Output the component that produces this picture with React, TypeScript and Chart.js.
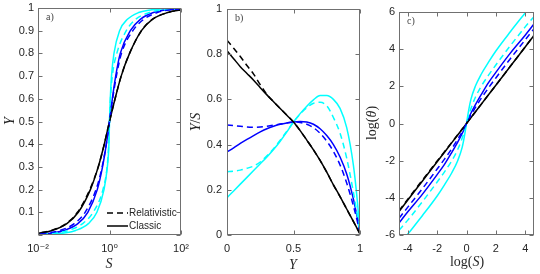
import React, { useEffect, useRef } from 'react';
import { Chart, registerables } from 'chart.js';
Chart.register(...registerables);

// ---------- Panel a : Y versus S (log axis) ----------
const yGridA = [0.001, 0.003, 0.01, 0.02, 0.05, 0.1, 0.2, 0.3, 0.4, 0.5, 0.6, 0.7, 0.8, 0.9, 0.95, 0.98, 0.99, 0.997, 0.9995];
const sBlackClassic = [0.00123, 0.00368, 0.0124, 0.025, 0.0641, 0.134, 0.292, 0.484, 0.714, 1, 1.43, 2.12, 3.64, 7.83, 15.8, 42.6, 86, 285, 1666];
const sBlackRel = [0.00116, 0.00348, 0.0117, 0.0236, 0.0605, 0.127, 0.281, 0.484, 0.714, 1, 1.43, 2.12, 3.64, 7.83, 15.8, 42.6, 86, 285, 1666];
const sBlueClassic = [0.00272, 0.0082, 0.0272, 0.0538, 0.13, 0.247, 0.455, 0.638, 0.816, 1, 1.2, 1.49, 2.0, 3.83, 7.3, 16.9, 33, 125, 800];
const sBlueRel = [0.00205, 0.00616, 0.0205, 0.0412, 0.1035, 0.2075, 0.419, 0.622, 0.813, 1, 1.224, 1.556, 2.16, 4.5, 9.05, 21.8, 41, 142, 900];
const sCyanClassic = [0.00606, 0.0182, 0.0602, 0.113, 0.256, 0.444, 0.702, 0.87, 0.964, 1, 1.053, 1.138, 1.333, 1.915, 3.17, 6.53, 12.4, 40, 250];
const sCyanRel = [0.00357, 0.0107, 0.0356, 0.0709, 0.177, 0.348, 0.656, 0.857, 0.952, 1, 1.062, 1.197, 1.6, 2.95, 5.34, 13.1, 25.4, 83, 333];
const ticksAX = [0.01, 1, 100];
const ticksAXLabels = ['10\u207B\u00B2', '10\u2070', '10\u00B2'];
const ticksAY = [0, 0.1, 0.2, 0.3, 0.4, 0.5, 0.6, 0.7, 0.8, 0.9, 1];
const ticksAYLabels = ['', '0.1', '0.2', '0.3', '0.4', '0.5', '0.6', '0.7', '0.8', '0.9', '1'];
const legendLabels = ['Relativistic', 'Classic'];

// ---------- Panel b : Y/S versus Y ----------
const yB = [0, 0.05, 0.1, 0.15, 0.2, 0.25, 0.3, 0.35, 0.4, 0.45, 0.5, 0.55, 0.6, 0.65, 0.7, 0.75, 0.8, 0.85, 0.9, 0.95, 0.98, 1];
const rBlackClassic = [0.815, 0.78, 0.745, 0.715, 0.685, 0.652, 0.62, 0.59, 0.56, 0.53, 0.5, 0.462, 0.42, 0.377, 0.33, 0.278, 0.222, 0.17, 0.115, 0.06, 0.027, 0.005];
const rBlackRel = [0.862, 0.826, 0.79, 0.75, 0.712, 0.665, 0.622, 0.59, 0.56, 0.53, 0.5, 0.462, 0.42, 0.377, 0.33, 0.278, 0.222, 0.17, 0.115, 0.06, 0.027, 0.005];
const rBlueClassic = [0.367, 0.385, 0.405, 0.423, 0.44, 0.456, 0.47, 0.481, 0.49, 0.496, 0.5, 0.502, 0.5, 0.49, 0.47, 0.44, 0.4, 0.345, 0.27, 0.16, 0.075, 0.008];
const rBlueRel = [0.487, 0.484, 0.481, 0.478, 0.477, 0.478, 0.481, 0.486, 0.491, 0.496, 0.5, 0.498, 0.49, 0.475, 0.45, 0.415, 0.37, 0.31, 0.23, 0.13, 0.06, 0.008];
const rCyanClassic = [0.165, 0.195, 0.225, 0.255, 0.285, 0.315, 0.345, 0.378, 0.415, 0.456, 0.5, 0.537, 0.57, 0.598, 0.617, 0.617, 0.6, 0.56, 0.475, 0.31, 0.15, 0.008];
const rCyanRel = [0.28, 0.282, 0.287, 0.295, 0.305, 0.323, 0.35, 0.382, 0.42, 0.459, 0.5, 0.535, 0.563, 0.583, 0.587, 0.572, 0.52, 0.45, 0.34, 0.19, 0.085, 0.008];
const ticksBX = [0, 0.5, 1];
const ticksBY = [0, 0.2, 0.4, 0.6, 0.8, 1];

// ---------- Panel c : log(theta) versus log(S) ----------
const lnS = [-4.6, -4, -3, -2, -1.5, -1, -0.6, -0.3, -0.15, 0, 0.15, 0.3, 0.6, 1, 1.5, 2, 3, 4, 4.6];
const thBlackClassic = [-4.74, -4.12, -3.09, -2.06, -1.55, -1.03, -0.62, -0.31, -0.155, 0, 0.155, 0.31, 0.62, 1.03, 1.55, 2.06, 3.09, 4.12, 4.74];
const thBlackRel = [-4.69, -4.07, -3.04, -2.02, -1.52, -1.01, -0.61, -0.31, -0.155, 0, 0.155, 0.31, 0.62, 1.03, 1.55, 2.06, 3.09, 4.12, 4.74];
const thBlueClassic = [-5.35, -4.75, -3.8, -2.75, -2.2, -1.55, -1.0, -0.55, -0.3, 0, 0.3, 0.55, 1.0, 1.55, 2.2, 2.75, 3.8, 4.75, 5.35];
const thBlueRel = [-5.1, -4.5, -3.5, -2.45, -1.92, -1.35, -0.85, -0.45, -0.24, 0, 0.24, 0.45, 0.85, 1.35, 1.92, 2.45, 3.5, 4.5, 5.1];
const thCyanClassic = [-6.55, -5.95, -4.95, -3.9, -3.3, -2.65, -2.0, -1.3, -0.72, 0, 0.72, 1.3, 2.0, 2.65, 3.3, 3.9, 4.95, 5.95, 6.55];
const thCyanRel = [-5.75, -5.2, -4.2, -3.15, -2.6, -2.0, -1.4, -0.8, -0.42, 0, 0.42, 0.8, 1.4, 2.0, 2.6, 3.15, 4.2, 5.2, 5.75];
const ticksCX = [-4, -2, 0, 2, 4];
const ticksCY = [-6, -4, -2, 0, 2, 4, 6];

// ---------- styling ----------
const BLACK = '#000000';
const BLUE = '#0000ff';
const CYAN = '#00ffff';
const DASH = [6, 4];
const AXIS = '#707070';
const TEXT = '#262626';
const SANS = '"Liberation Sans", Arial, "DejaVu Sans", sans-serif';
const SERIF = '"Liberation Serif", "DejaVu Serif", serif';

type Seg = { t: string; i?: boolean };

function drawRich(ctx: CanvasRenderingContext2D, segs: Seg[], x: number, y: number, rot: boolean, size: number) {
  ctx.save();
  ctx.translate(x, y);
  if (rot) ctx.rotate(-Math.PI / 2);
  const fonts = segs.map((s) => `${s.i ? 'italic ' : ''}${size}px ${SERIF}`);
  const widths = segs.map((s, k) => {
    ctx.font = fonts[k];
    return ctx.measureText(s.t).width;
  });
  const total = widths.reduce((a, b) => a + b, 0);
  let cx = -total / 2;
  ctx.textAlign = 'left';
  ctx.textBaseline = 'middle';
  segs.forEach((s, k) => {
    ctx.font = fonts[k];
    ctx.fillText(s.t, cx, 0);
    cx += widths[k];
  });
  ctx.restore();
}

const deco = {
  id: 'deco',
  afterDraw(chart: any, _args: any, o: any) {
    const { ctx, chartArea: ca, scales } = chart;
    const xs = scales.x;
    const ys = scales.y;
    ctx.save();
    ctx.strokeStyle = AXIS;
    ctx.lineWidth = 1;
    ctx.setLineDash([]);
    const L = Math.round(ca.left) + 0.5;
    const R = Math.round(ca.right) - 0.5;
    const T = Math.round(ca.top) + 0.5;
    const B = Math.round(ca.bottom) - 0.5;
    ctx.strokeRect(L, T, R - L, B - T);
    const tl = 4;
    ctx.beginPath();
    for (const t of xs.ticks) {
      const p = Math.round(xs.getPixelForValue(t.value)) + 0.5;
      ctx.moveTo(p, B); ctx.lineTo(p, B - tl);
      ctx.moveTo(p, T); ctx.lineTo(p, T + tl);
    }
    for (const t of ys.ticks) {
      const p = Math.round(ys.getPixelForValue(t.value)) + 0.5;
      ctx.moveTo(L, p); ctx.lineTo(L + tl, p);
      ctx.moveTo(R, p); ctx.lineTo(R - tl, p);
    }
    ctx.stroke();

    ctx.fillStyle = TEXT;
    drawRich(ctx, o.xTitle, o.xTitlePos[0], o.xTitlePos[1], false, 14);
    drawRich(ctx, o.yTitle, o.yTitlePos[0], o.yTitlePos[1], true, 14);

    ctx.font = `10px ${SERIF}`;
    ctx.fillStyle = '#444';
    ctx.textAlign = 'left';
    ctx.textBaseline = 'middle';
    ctx.fillText(o.letter, ca.left + 8, ca.top + 9);

    if (o.legend) {
      const rows = o.legend as { label: string; dash: number[] }[];
      rows.forEach((r, k) => {
        const y = o.legendPos[1] + k * 13;
        ctx.strokeStyle = BLACK;
        ctx.lineWidth = 1.5;
        ctx.setLineDash(r.dash);
        ctx.beginPath();
        ctx.moveTo(o.legendPos[0], y);
        ctx.lineTo(o.legendPos[0] + 21, y);
        ctx.stroke();
        ctx.setLineDash([]);
        ctx.fillStyle = TEXT;
        ctx.font = `10px ${SANS}`;
        ctx.textBaseline = 'middle';
        ctx.fillText(r.label, o.legendPos[0] + 22, y + 0.5);
      });
    }
    ctx.restore();
  },
};

const pts = (xs: number[], ys: number[]) => xs.map((x, i) => ({ x, y: ys[i] }));

function line(data: { x: number; y: number }[], color: string, dashed: boolean) {
  return {
    data,
    borderColor: color,
    backgroundColor: color,
    borderWidth: 1.5,
    borderDash: dashed ? DASH : [],
    pointRadius: 0,
    fill: false,
    cubicInterpolationMode: 'monotone' as const,
  };
}

function axisTicks(values: number[], labels: string[]) {
  return {
    afterBuildTicks: (s: any) => {
      s.ticks = values.map((v) => ({ value: v }));
    },
    ticks: {
      autoSkip: false,
      maxRotation: 0,
      minRotation: 0,
      color: TEXT,
      font: { family: SANS, size: 11 },
      callback: (_v: any, i: number) => labels[i],
    },
  };
}

function baseOptions(padTop: number, padRight: number, yWidth: number, xPad: number, yPad: number, decoOpts: any, xScale: any, yScale: any) {
  return {
    animation: false,
    responsive: false,
    maintainAspectRatio: false,
    layout: { padding: { left: 0, right: padRight, top: padTop, bottom: 0 } },
    plugins: { legend: { display: false }, tooltip: { enabled: false }, deco: decoOpts },
    scales: {
      x: {
        ...xScale,
        grid: { display: false, drawTicks: false },
        border: { display: false },
        ticks: { ...xScale.ticks, padding: xPad },
        afterFit: (s: any) => {
          s.height = 39;
          s.paddingLeft = 0;
          s.paddingRight = 0;
        },
      },
      y: {
        ...yScale,
        grid: { display: false, drawTicks: false },
        border: { display: false },
        ticks: { ...yScale.ticks, padding: yPad },
        afterFit: (s: any) => {
          s.width = yWidth;
          s.paddingTop = 0;
          s.paddingBottom = 0;
        },
      },
    },
  };
}

function configA() {
  return {
    type: 'line',
    data: {
      datasets: [
        line(pts(sBlackRel, yGridA), BLACK, true),
        line(pts(sBlueRel, yGridA), BLUE, true),
        line(pts(sCyanRel, yGridA), CYAN, true),
        line(pts(sBlackClassic, yGridA), BLACK, false),
        line(pts(sBlueClassic, yGridA), BLUE, false),
        line(pts(sCyanClassic, yGridA), CYAN, false),
      ],
    },
    options: baseOptions(8, 9, 38, 7, 4, {
      xTitle: [{ t: 'S', i: true }], xTitlePos: [109, 264],
      yTitle: [{ t: 'Y', i: true }], yTitlePos: [10, 121],
      letter: 'a)',
      legend: [{ label: legendLabels[0], dash: DASH }, { label: legendLabels[1], dash: [] }],
      legendPos: [107, 213],
    },
      { type: 'logarithmic', min: 0.01, max: 100, ...axisTicks(ticksAX, ticksAXLabels) },
      { type: 'linear', min: 0, max: 1, ...axisTicks(ticksAY, ticksAYLabels) }),
    plugins: [deco],
  };
}

function configB() {
  return {
    type: 'line',
    data: {
      datasets: [
        line(pts(yB, rBlackRel), BLACK, true),
        line(pts(yB, rBlueRel), BLUE, true),
        line(pts(yB, rCyanRel), CYAN, true),
        line(pts(yB, rBlackClassic), BLACK, false),
        line(pts(yB, rBlueClassic), BLUE, false),
        line(pts(yB, rCyanClassic), CYAN, false),
      ],
    },
    options: baseOptions(9, 6, 45, 7, 5, {
      xTitle: [{ t: 'Y', i: true }], xTitlePos: [111, 265],
      yTitle: [{ t: 'Y', i: true }, { t: '/' }, { t: 'S', i: true }], yTitlePos: [14, 122],
      letter: 'b)',
    },
      { type: 'linear', min: 0, max: 1, ...axisTicks(ticksBX, ticksBX.map(String)) },
      { type: 'linear', min: 0, max: 1, ...axisTicks(ticksBY, ticksBY.map(String)) }),
    plugins: [deco],
  };
}

function configC() {
  return {
    type: 'line',
    data: {
      datasets: [
        line(pts(lnS, thBlackRel), BLACK, true),
        line(pts(lnS, thBlueRel), BLUE, true),
        line(pts(lnS, thCyanRel), CYAN, true),
        line(pts(lnS, thBlackClassic), BLACK, false),
        line(pts(lnS, thBlueClassic), BLUE, false),
        line(pts(lnS, thCyanClassic), CYAN, false),
      ],
    },
    options: baseOptions(12, 6, 43, 7, 4, {
      xTitle: [{ t: 'log(' }, { t: 'S', i: true }, { t: ')' }], xTitlePos: [111, 262],
      yTitle: [{ t: 'log(' }, { t: '\u03B8', i: true }, { t: ')' }], yTitlePos: [16, 123],
      letter: 'c)',
    },
      { type: 'linear', min: -4.6, max: 4.6, ...axisTicks(ticksCX, ticksCX.map(String)) },
      { type: 'linear', min: -6, max: 6, ...axisTicks(ticksCY, ticksCY.map(String)) }),
    plugins: [deco],
  };
}

function Panel({ make, left, width }: { make: () => any; left: number; width: number }) {
  const ref = useRef<HTMLCanvasElement>(null);
  useEffect(() => {
    const chart = new Chart(ref.current as HTMLCanvasElement, make());
    return () => chart.destroy();
  }, []);
  return (
    <canvas
      ref={ref}
      width={width}
      height={274}
      style={{ position: 'absolute', left, top: 0, width, height: 274 }}
    />
  );
}

export default function App() {
  return (
    <div style={{ position: 'fixed', left: 0, top: 0, width: 540, height: 274, background: '#ffffff', overflow: 'hidden' }}>
      <Panel make={configA} left={0} width={190} />
      <Panel make={configB} left={182} width={184} />
      <Panel make={configC} left={356} width={184} />
    </div>
  );
}
